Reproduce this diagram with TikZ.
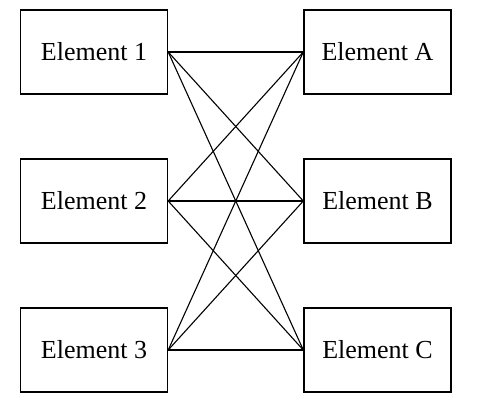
\documentclass[tikz,border=0pt]{standalone}
\usepackage{fontspec}
\setmainfont{Liberation Serif}
\usepackage{tikz}
\usetikzlibrary{positioning}

\begin{document}
\begin{tikzpicture}[x=1pt, y=-1pt,
    elem/.style={draw, line width=1.4pt, minimum width=147pt, minimum height=84pt, inner sep=0pt, font=\fontsize{26}{31}\selectfont},
    link/.style={line width=1.1pt}]
    \useasboundingbox (0,0) rectangle (484,404);
    
    \node[elem] (e1) at (94,52) {Element 1};
    \node[elem] (e2) at (94,201) {Element 2};
    \node[elem] (e3) at (94,350) {Element 3};
    
    \node[elem] (ea) at (377.5,52) {Element A};
    \node[elem] (eb) at (377.5,201) {Element B};
    \node[elem] (ec) at (377.5,350) {Element C};
    
    \foreach \l in {e1,e2,e3}
        \foreach \r in {ea,eb,ec}
            \draw[link] (\l.east) -- (\r.west);
\end{tikzpicture}
\end{document}
